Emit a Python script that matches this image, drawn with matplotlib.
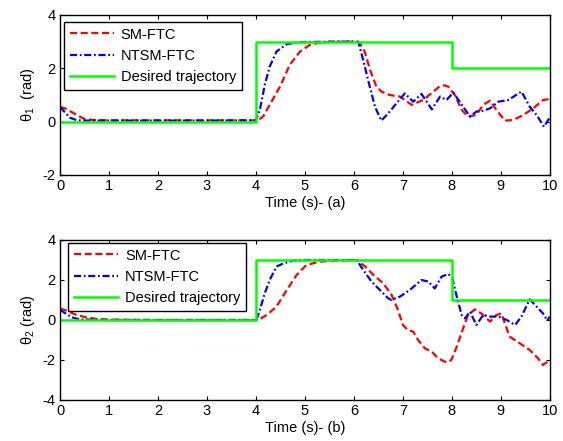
import numpy as np
import matplotlib
matplotlib.use('Agg')
import matplotlib.pyplot as plt

plt.rcParams['font.family'] = ['Liberation Sans', 'DejaVu Sans']
plt.rcParams['axes.unicode_minus'] = False

# ---- data ----
# (a) theta_1
t_sm1 = [0, 0.1, 0.2, 0.34, 0.5, 0.7, 1.0, 2.0, 3.0, 4.0, 4.05, 4.15, 4.28, 4.49, 4.69, 4.9, 5.1, 5.3,
         5.51, 5.8, 6.05, 6.12, 6.22, 6.33, 6.46, 6.56, 6.73, 6.94, 7.18, 7.41, 7.58, 7.76, 7.85, 7.93,
         8.06, 8.2, 8.33, 8.5, 8.64, 8.78, 8.91, 9.08, 9.25, 9.46, 9.66, 9.86, 10.0]
y_sm1 = [0.55, 0.5, 0.4, 0.25, 0.1, 0.06, 0.05, 0.05, 0.05, 0.05, 0.06, 0.2, 0.63, 1.31, 2.13, 2.63, 2.88, 2.96,
         2.99, 3.0, 3.0, 2.95, 2.63, 1.94, 1.31, 1.13, 1.0, 0.94, 0.63, 0.81, 1.06, 1.34, 1.36, 1.31,
         1.0, 0.44, 0.19, 0.25, 0.63, 0.79, 0.44, 0.04, 0.06, 0.25, 0.5, 0.81, 0.85]

t_nt1 = [0, 0.1, 0.2, 0.35, 0.5, 1.0, 2.0, 3.0, 4.0, 4.08, 4.18, 4.28, 4.42, 4.63, 4.9, 5.5, 6.09,
         6.19, 6.29, 6.43, 6.56, 6.7, 6.87, 7.04, 7.21, 7.38, 7.59, 7.76, 7.89, 8.03, 8.23, 8.37,
         8.5, 8.64, 8.78, 8.95, 9.15, 9.42, 9.59, 9.73, 9.88, 10.0]
y_nt1 = [0.55, 0.35, 0.15, 0.05, 0.04, 0.04, 0.04, 0.04, 0.05, 0.44, 1.38, 2.06, 2.63, 2.91, 2.98, 3.0, 3.0,
         2.31, 1.56, 0.56, 0.04, 0.31, 0.69, 1.06, 0.75, 1.04, 0.46, 0.94, 0.81, 1.09, 0.56, 0.19,
         0.38, 0.41, 0.5, 0.75, 0.81, 1.13, 0.56, 0.25, -0.19, 0.16]

t_des = [0, 4, 8, 10]
y_des1 = [0, 3, 2, 2]

# (b) theta_2
t_sm2 = [0, 0.15, 0.34, 0.55, 0.75, 1.0, 2.0, 3.0, 4.0, 4.05, 4.22, 4.42, 4.63, 4.83, 5.03, 5.31, 5.65,
         6.06, 6.23, 6.4, 6.6, 6.77, 6.9, 7.0, 7.1, 7.21, 7.31, 7.45, 7.59, 7.72, 7.89, 7.99, 8.1,
         8.23, 8.33, 8.47, 8.6, 8.78, 8.91, 9.01, 9.18, 9.39, 9.59, 9.76, 9.86, 10.0]
y_sm2 = [0.58, 0.45, 0.25, 0.12, 0.05, 0.02, 0.0, 0.0, 0.0, 0.0, 0.25, 0.67, 1.5, 2.25, 2.75, 2.92, 2.97,
         3.0, 2.67, 2.25, 1.83, 1.25, 0.5, -0.25, -0.5, -0.58, -1.0, -1.42, -1.58, -1.92, -2.12, -2.0, -1.33,
         -0.42, 0.25, 0.53, 0.33, -0.08, 0.25, 0.33, -0.83, -1.17, -1.5, -1.92, -2.25, -2.0]

t_nt2 = [0, 0.1, 0.24, 0.41, 1.0, 2.0, 3.0, 4.01, 4.08, 4.18, 4.28, 4.42, 4.56, 4.76, 4.97, 6.06,
         6.19, 6.36, 6.53, 6.7, 6.77, 6.94, 7.14, 7.38, 7.52, 7.65, 7.79, 7.93, 8.01, 8.1, 8.2, 8.27,
         8.37, 8.5, 8.64, 8.78, 8.95, 9.12, 9.29, 9.42, 9.59, 9.73, 9.86, 9.95, 10.0]
y_nt2 = [0.5, 0.35, 0.13, 0.03, 0.0, 0.0, 0.0, 0.0, 0.5, 1.33, 2.0, 2.67, 2.83, 2.97, 3.0, 3.0,
         2.5, 1.92, 1.5, 1.08, 1.0, 1.17, 1.5, 2.0, 1.92, 1.58, 2.17, 2.3, 2.08, 1.17, 0.25, 0.08,
         0.42, -0.25, 0.25, 0.17, 0.17, 0.0, -0.25, 0.17, 1.03, 0.67, 0.33, -0.03, 0.17]

y_des2 = [0, 3, 1, 1]

labels = ['SM-FTC', 'NTSM-FTC', 'Desired trajectory']


def draw(ax, t_sm, y_sm, t_nt, y_nt, y_des, ylim, yticks, ylabel, xlabel, leg_anchor):
  ax.plot(t_sm, y_sm, '--', color=(1, 0, 0), lw=1.6, dashes=(3.2, 1.6), label=labels[0])
  ax.plot(t_nt, y_nt, '-.', color=(0, 0, 1), lw=1.6, dashes=(3.2, 1.2, 0.8, 1.2), label=labels[1])
  ax.plot(t_des, y_des, '-', color=(0, 1, 0), lw=1.8, drawstyle='steps-post', label=labels[2])
  ax.set_xlim(0, 10)
  ax.set_ylim(*ylim)
  ax.set_xticks(range(0, 11))
  ax.set_yticks(yticks)
  ax.tick_params(direction='in', top=True, right=True, length=3, labelsize=10.5, pad=3)
  ax.set_ylabel(ylabel, fontsize=10.5, labelpad=4)
  ax.set_xlabel(xlabel, fontsize=10.5, labelpad=2)
  for s in ax.spines.values():
    s.set_linewidth(1.0)
  leg = ax.legend(loc='upper left', bbox_to_anchor=leg_anchor, fontsize=10.5, handlelength=3.0,
                  labelspacing=0.5, borderpad=0.4, handletextpad=0.5, borderaxespad=0,
                  fancybox=False, edgecolor='black', framealpha=1)
  leg.get_frame().set_linewidth(1.0)


fig = plt.figure(figsize=(5.63, 4.41), dpi=100)
ax1 = fig.add_axes([0.1066, 0.6032, 0.870, 0.3628])
ax2 = fig.add_axes([0.1066, 0.0930, 0.870, 0.3628])

draw(ax1, t_sm1, y_sm1, t_nt1, y_nt1, y_des1, (-2, 4), [-2, 0, 2, 4],
     r'$\mathregular{θ_1}$  (rad)', 'Time (s)- (a)', (0.008, 0.958))
draw(ax2, t_sm2, y_sm2, t_nt2, y_nt2, y_des2, (-4, 4), [-4, -2, 0, 2, 4],
     r'$\mathregular{θ_2}$ (rad)', 'Time (s)- (b)', (0.017, 0.983))

fig.savefig('out.png', dpi=100)
